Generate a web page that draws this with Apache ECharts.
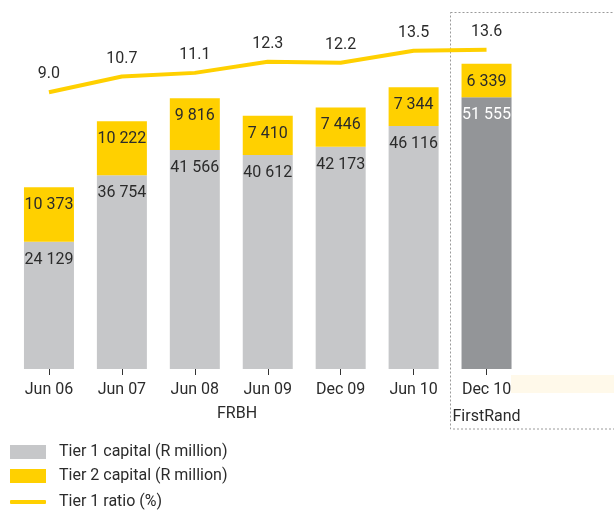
<!DOCTYPE html>
<html>
<head>
<meta charset="utf-8">
<script src="https://cdn.jsdelivr.net/npm/echarts@6/dist/echarts.min.js"></script>
<style>
  html, body { margin: 0; padding: 0; background: #fff; }
  #chart { width: 614px; height: 511px; }
</style>
</head>
<body>
<div id="chart"></div>
<script>
// Tier 1 / Tier 2 capital + Tier 1 ratio
const categories = ['Jun 06', 'Jun 07', 'Jun 08', 'Jun 09', 'Dec 09', 'Jun 10', 'Dec 10'];
const tier1 = [24129, 36754, 41566, 40612, 42173, 46116, 51555];
const tier2 = [10373, 10222, 9816, 7410, 7446, 7344, 6339];
const ratio = [9.0, 10.7, 11.1, 12.3, 12.2, 13.5, 13.6];

const FONT = "Roboto, 'Noto Sans', sans-serif";
const GREY = '#c6c7c9';
const DARK = '#939598';
const YELLOW = '#ffd000';
const TXT = '#2b2b2b';

const fmt = (v) => String(v).replace(/\B(?=(\d{3})+(?!\d))/g, ' ');

const legendBase = (name, top, h, icon) => ({
  left: 10,
  top: top,
  padding: 0,
  itemWidth: 36,
  itemHeight: h,
  icon: icon,
  textStyle: { fontFamily: FONT, fontSize: 16, lineHeight: 14, color: TXT, padding: [0, 0, 0, 8] },
  data: [name],
});

const chart = echarts.init(document.getElementById('chart'));
chart.setOption({
  backgroundColor: '#fff',
  animation: false,
  textStyle: { fontFamily: FONT },
  grid: { left: 12.5, right: 91, top: 0, bottom: 142 },
  legend: [
    legendBase('Tier 1 capital (R million)', 444, 14, 'rect'),
    legendBase('Tier 2 capital (R million)', 468, 14, 'rect'),
    legendBase('Tier 1 ratio (%)', 494, 4, 'roundRect'),
  ],
  xAxis: {
    type: 'category',
    data: categories,
    axisLine: { show: false },
    axisTick: { show: true, alignWithLabel: true, length: 6, lineStyle: { color: '#333' } },
    axisLabel: {
      interval: 0,
      fontFamily: FONT, fontSize: 16, color: TXT, margin: 7, lineHeight: 27,
      formatter: (v) => (v === 'Dec 10' ? 'Dec 10\nFirstRand' : v),
    },
  },
  yAxis: [
    { type: 'value', min: 0, max: 70000, show: false },
    { type: 'value', min: -21, max: 19, show: false },
  ],
  series: [
    {
      name: 'Tier 1 capital (R million)',
      type: 'bar',
      stack: 'cap',
      barWidth: 50,
      itemStyle: { color: GREY },
      data: tier1.map((v, i) => (i === tier1.length - 1
        ? { value: v, itemStyle: { color: DARK }, label: { color: '#fff' } }
        : v)),
      label: {
        show: true, position: 'insideTop', distance: 10,
        fontFamily: FONT, fontSize: 16, color: TXT,
        formatter: (p) => fmt(p.value),
      },
    },
    {
      name: 'Tier 2 capital (R million)',
      type: 'bar',
      stack: 'cap',
      barWidth: 50,
      itemStyle: { color: YELLOW },
      data: tier2,
      label: {
        show: true, position: 'insideTop', distance: 10,
        fontFamily: FONT, fontSize: 16, color: TXT,
        formatter: (p) => fmt(p.value),
      },
    },
    {
      name: 'Tier 1 ratio (%)',
      type: 'line',
      yAxisIndex: 1,
      data: ratio,
      symbol: 'circle',
      symbolSize: 0,
      showSymbol: true,
      lineStyle: { color: YELLOW, width: 4 },
      itemStyle: { color: YELLOW },
      label: {
        show: true, position: 'top', distance: 10,
        fontFamily: FONT, fontSize: 16, color: TXT,
        formatter: (p) => p.value.toFixed(1),
      },
    },
  ],
  graphic: [
    {
      type: 'rect', silent: true, z: -1,
      shape: { x: 511, y: 375, width: 103, height: 18 },
      style: { fill: '#fff9ea' },
    },
    {
      type: 'rect', silent: true,
      shape: { x: 450.5, y: 12.5, width: 170, height: 416.5 },
      style: { fill: 'none', stroke: '#9a9a9a', lineWidth: 1, lineDash: [2, 2] },
    },
    {
      type: 'text', left: 217, top: 406,
      style: { text: 'FRBH', font: '16px ' + FONT, fill: TXT },
    },
  ],
});
</script>
</body>
</html>
